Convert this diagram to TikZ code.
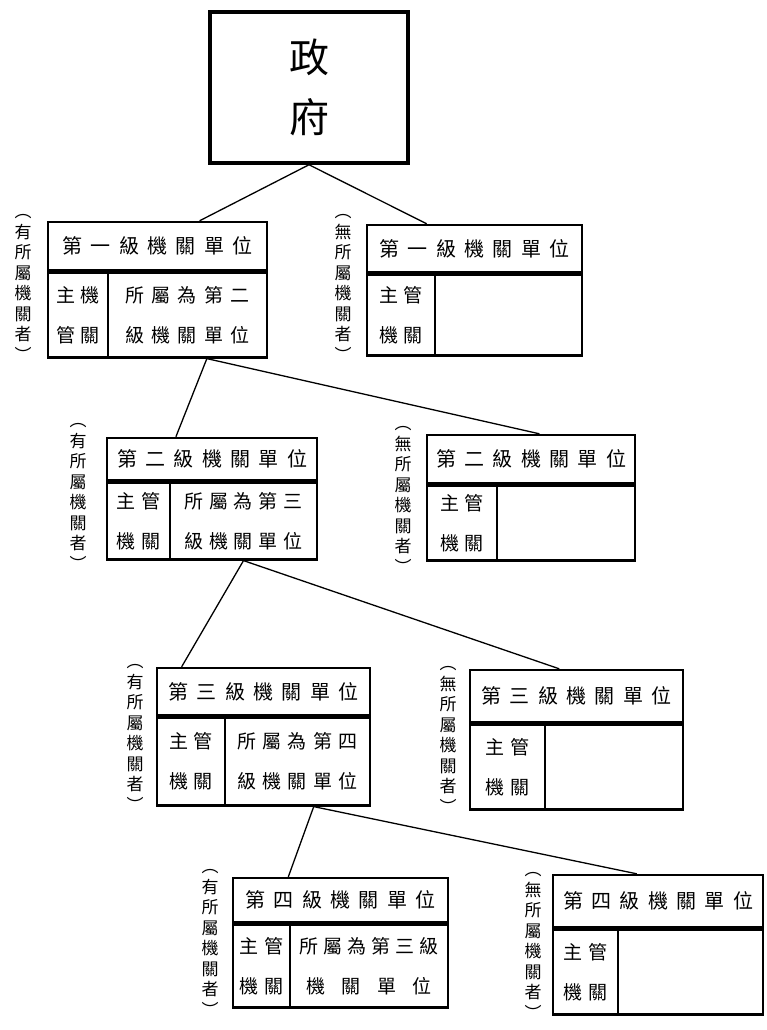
\documentclass[tikz,border=0pt]{standalone}
\usepackage{fontspec}
\newfontfamily\cjk{Noto Sans CJK TC}
\usetikzlibrary{positioning,calc}
\newcommand\hdtxt[1]{\makebox[190pt][s]{#1}}
\newcommand\rctxt[2][124pt]{\makebox[#1][s]{#2}}
\newcommand\lctxt[1]{\makebox[44pt][s]{#1}}

\begin{document}
\begin{tikzpicture}[x=1pt,y=-1pt,
    box/.style={draw,line width=2.4pt,inner sep=0pt},
    head/.style={box,font=\cjk\fontsize{20}{20}\selectfont},
    cell/.style={box,align=center,font=\cjk\fontsize{19}{40}\selectfont},
    side/.style={align=center,font=\cjk\fontsize{17}{20.5}\selectfont},
    link/.style={line width=1.3pt}]
\useasboundingbox (0,0) rectangle (767,1030);

\node[box,line width=3.5pt,minimum width=198,minimum height=151,align=center,
  font=\cjk\fontsize{40}{60}\selectfont] (gov) at (309,87.5) {政\\府};

% first level
\node[head,minimum width=219,minimum height=48] (hd1a) at (157.5,246) {\hdtxt{第 一 級 機 關 單 位}};
\node[cell,minimum width=60,minimum height=85,anchor=north west] (lc1a) at (hd1a.south west) {\lctxt{主 機}\\\lctxt{管 關}};
\node[cell,minimum width=159,minimum height=85,anchor=north east] (rc1a) at (hd1a.south east) {\rctxt{所 屬 為 第 二}\\\rctxt{級 機 關 單 位}};
\node[side] (sd1a) at (23,288) {︵\\有\\所\\屬\\機\\關\\者\\︶};

\node[head,minimum width=215,minimum height=47] (hd1b) at (474.5,248.5) {\hdtxt{第 一 級 機 關 單 位}};
\node[cell,minimum width=68,minimum height=81,anchor=north west] (lc1b) at (hd1b.south west) {\lctxt{主 管}\\\lctxt{機 關}};
\node[cell,minimum width=147,minimum height=81,anchor=north east] (rc1b) at (hd1b.south east) {};
\node[side] (sd1b) at (343,288) {︵\\無\\所\\屬\\機\\關\\者\\︶};

% second level
\node[head,minimum width=210,minimum height=42] (hd2a) at (212,459) {\hdtxt{第 二 級 機 關 單 位}};
\node[cell,minimum width=63,minimum height=77,anchor=north west] (lc2a) at (hd2a.south west) {\lctxt{主 管}\\\lctxt{機 關}};
\node[cell,minimum width=147,minimum height=77,anchor=north east] (rc2a) at (hd2a.south east) {\rctxt[118pt]{所 屬 為 第 三}\\\rctxt[118pt]{級 機 關 單 位}};
\node[side] (sd2a) at (78,497) {︵\\有\\所\\屬\\機\\關\\者\\︶};

\node[head,minimum width=208,minimum height=48] (hd2b) at (531,459) {\hdtxt{第 二 級 機 關 單 位}};
\node[cell,minimum width=70,minimum height=75,anchor=north west] (lc2b) at (hd2b.south west) {\lctxt{主 管}\\\lctxt{機 關}};
\node[cell,minimum width=138,minimum height=75,anchor=north east] (rc2b) at (hd2b.south east) {};
\node[side] (sd2b) at (403,500) {︵\\無\\所\\屬\\機\\關\\者\\︶};

% third level
\node[head,minimum width=213,minimum height=47] (hd3a) at (263.5,691.5) {\hdtxt{第 三 級 機 關 單 位}};
\node[cell,minimum width=68,minimum height=88,anchor=north west] (lc3a) at (hd3a.south west) {\lctxt{主 管}\\\lctxt{機 關}};
\node[cell,minimum width=145,minimum height=88,anchor=north east] (rc3a) at (hd3a.south east) {\rctxt[120pt]{所 屬 為 第 四}\\\rctxt[120pt]{級 機 關 單 位}};
\node[side] (sd3a) at (135,738) {︵\\有\\所\\屬\\機\\關\\者\\︶};

\node[head,minimum width=213,minimum height=52] (hd3b) at (576.5,696) {\hdtxt{第 三 級 機 關 單 位}};
\node[cell,minimum width=75,minimum height=85,anchor=north west] (lc3b) at (hd3b.south west) {\lctxt{主 管}\\\lctxt{機 關}};
\node[cell,minimum width=138,minimum height=85,anchor=north east] (rc3b) at (hd3b.south east) {};
\node[side] (sd3b) at (448,740) {︵\\無\\所\\屬\\機\\關\\者\\︶};

% fourth level
\node[head,minimum width=215,minimum height=44] (hd4a) at (340.5,900) {\hdtxt{第 四 級 機 關 單 位}};
\node[cell,minimum width=57,minimum height=83,anchor=north west] (lc4a) at (hd4a.south west) {\lctxt{主 管}\\\lctxt{機 關}};
\node[cell,minimum width=158,minimum height=83,anchor=north east] (rc4a) at (hd4a.south east) {\rctxt[140pt]{所 屬 為 第 三 級}\\\rctxt[126pt]{機 關 單 位}};
\node[side] (sd4a) at (210,943) {︵\\有\\所\\屬\\機\\關\\者\\︶};

\node[head,minimum width=210,minimum height=52] (hd4b) at (658,901) {\hdtxt{第 四 級 機 關 單 位}};
\node[cell,minimum width=65,minimum height=85,anchor=north west] (lc4b) at (hd4b.south west) {\lctxt{主 管}\\\lctxt{機 關}};
\node[cell,minimum width=145,minimum height=85,anchor=north east] (rc4b) at (hd4b.south east) {};
\node[side] (sd4b) at (533,946) {︵\\無\\所\\屬\\機\\關\\者\\︶};

% branches
\coordinate (br1) at ($(rc1a.south west)!.62!(rc1a.south east)$);
\coordinate (br3) at ($(rc3a.south west)!.61!(rc3a.south east)$);
\draw[link] ($(hd1a.north west)!.69!(hd1a.north east)$) -- (gov.south) -- ($(hd1b.north west)!.28!(hd1b.north east)$);
\draw[link] ($(hd2a.north west)!.33!(hd2a.north east)$) -- (br1) -- ($(hd2b.north west)!.54!(hd2b.north east)$);
\draw[link] ($(hd3a.north west)!.12!(hd3a.north east)$) -- (rc2a.south) -- ($(hd3b.north west)!.42!(hd3b.north east)$);
\draw[link] ($(hd4a.north west)!.26!(hd4a.north east)$) -- (br3) -- ($(hd4b.north west)!.40!(hd4b.north east)$);
\end{tikzpicture}
\end{document}
